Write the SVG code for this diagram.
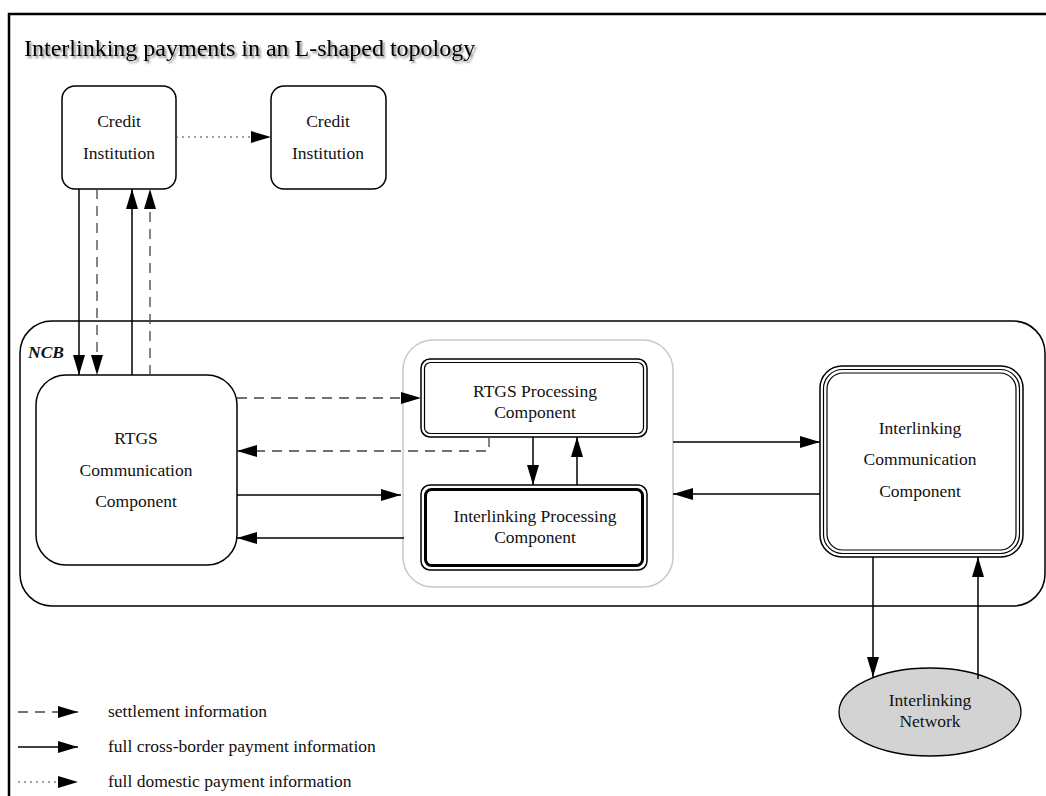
<svg xmlns="http://www.w3.org/2000/svg" width="1046" height="796" viewBox="0 0 1046 796">
<defs>
<marker id="ah" markerWidth="20" markerHeight="12" refX="20" refY="6" orient="auto" markerUnits="userSpaceOnUse">
<path d="M0,0 L20,6 L0,12 Z" fill="#000"/>
</marker>
<filter id="sh" x="-5%" y="-20%" width="110%" height="150%">
<feGaussianBlur in="SourceAlpha" stdDeviation="1"/>
<feOffset dx="2" dy="2"/>
<feComponentTransfer><feFuncA type="linear" slope="0.5"/></feComponentTransfer>
<feMerge><feMergeNode/><feMergeNode in="SourceGraphic"/></feMerge>
</filter>
</defs>
<style>
text{font-family:"Liberation Serif","Times New Roman",serif;font-size:17.5px;fill:#111;text-anchor:middle}
.box{fill:#fff;stroke:#000;stroke-width:1.5}
.thin{fill:none;stroke:#000;stroke-width:1.2}
.solid{fill:none;stroke:#000;stroke-width:1.5}
.dash{fill:none;stroke:#444;stroke-width:1.3;stroke-dasharray:10,7}
.dot{fill:none;stroke:#444;stroke-width:1.2;stroke-dasharray:2,4}
.leg{text-anchor:start}
</style>
<rect width="1046" height="796" fill="#fff"/>
<path d="M9,796 V14 H1046" fill="none" stroke="#000" stroke-width="2.5"/>
<text x="24" y="56" style="font-size:24px;text-anchor:start;fill:#000" filter="url(#sh)">Interlinking payments in an L-shaped topology</text>

<g id="ncb">
<rect x="20" y="321" width="1025" height="285" rx="32" class="box"/>
<text x="28" y="358" style="font-weight:bold;font-style:italic;text-anchor:start">NCB</text>
</g>
<g id="processing-group">
<rect x="403" y="340" width="270" height="247" rx="30" fill="#fff" stroke="#c8c8c8" stroke-width="1.5"/>
</g>

<g id="ci1">
<rect x="62" y="86" width="114" height="103" rx="13" class="box"/>
<text x="119" y="127">Credit</text>
<text x="119" y="159">Institution</text>
</g>
<g id="ci2">
<rect x="271" y="86" width="115" height="103" rx="13" class="box"/>
<text x="328" y="127">Credit</text>
<text x="328" y="159">Institution</text>
</g>

<g id="rtgs-comm">
<rect x="36" y="375" width="201" height="190" rx="30" class="box"/>
<text x="136" y="444">RTGS</text>
<text x="136" y="476">Communication</text>
<text x="136" y="507">Component</text>
</g>

<g id="rtgs-proc">
<rect x="421" y="359" width="226" height="78" rx="9" class="box"/>
<rect x="424.5" y="362.5" width="219" height="71" rx="6" class="thin"/>
<text x="535" y="397">RTGS Processing</text>
<text x="535" y="418">Component</text>
</g>

<g id="il-proc">
<rect x="421" y="485" width="226" height="85" rx="9" class="box"/>
<rect x="425.5" y="489.5" width="217" height="76" rx="6" fill="none" stroke="#000" stroke-width="3"/>
<text x="535" y="522">Interlinking Processing</text>
<text x="535" y="543">Component</text>
</g>

<g id="il-comm">
<rect x="820" y="366" width="203" height="191" rx="22" class="box"/>
<rect x="823.5" y="369.5" width="196" height="184" rx="19" class="thin"/>
<rect x="827" y="373" width="189" height="177" rx="16" class="thin"/>
<text x="920" y="434">Interlinking</text>
<text x="920" y="465">Communication</text>
<text x="920" y="497">Component</text>
</g>

<g id="il-net">
<ellipse cx="930" cy="712" rx="91" ry="44" fill="#d3d3d3" stroke="#000" stroke-width="1.3"/>
<text x="930" y="706">Interlinking</text>
<text x="930" y="727">Network</text>
</g>

<g id="connectors">
<path d="M176,137 H271" class="dot" marker-end="url(#ah)"/>
<path d="M79,189 V375" class="solid" marker-end="url(#ah)"/>
<path d="M97,189 V375" class="dash" marker-end="url(#ah)"/>
<path d="M132,375 V189" class="solid" marker-end="url(#ah)"/>
<path d="M150,375 V189" class="dash" marker-end="url(#ah)"/>
<path d="M237,398 H421" class="dash" marker-end="url(#ah)"/>
<path d="M489,437 V451 H237" class="dash" marker-end="url(#ah)"/>
<path d="M237,495 H401" class="solid" marker-end="url(#ah)"/>
<path d="M404,538 H237" class="solid" marker-end="url(#ah)"/>
<path d="M533,437 V485" class="solid" marker-end="url(#ah)"/>
<path d="M577,485 V437" class="solid" marker-end="url(#ah)"/>
<path d="M673,442 H820" class="solid" marker-end="url(#ah)"/>
<path d="M820,494 H673" class="solid" marker-end="url(#ah)"/>
<path d="M873,557 V677" class="solid" marker-end="url(#ah)"/>
<path d="M978,679 V557" class="solid" marker-end="url(#ah)"/>
</g>

<g id="legend">
<path d="M18,712 H78" class="dash" marker-end="url(#ah)"/>
<path d="M18,747 H78" class="solid" marker-end="url(#ah)"/>
<path d="M18,782 H78" class="dot" marker-end="url(#ah)"/>
<text x="108" y="717" class="leg">settlement information</text>
<text x="108" y="752" class="leg">full cross-border payment information</text>
<text x="108" y="787" class="leg">full domestic payment information</text>
</g>
</svg>
